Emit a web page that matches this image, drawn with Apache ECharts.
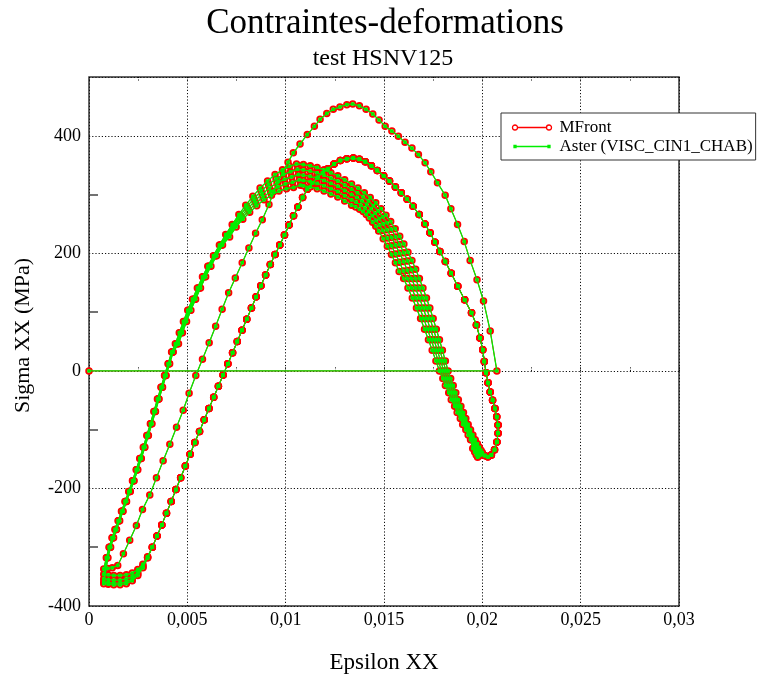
<!DOCTYPE html>
<html>
<head>
<meta charset="utf-8">
<script src="https://cdn.jsdelivr.net/npm/echarts@6/dist/echarts.min.js"></script>
<style>html,body{margin:0;padding:0;background:#fff}#c{width:762px;height:680px}</style>
</head>
<body>
<div id="c"></div>
<script>
const titleText = 'Contraintes-deformations';
const subtitleText = 'test HSNV125';
const xName = 'Epsilon XX';
const yName = 'Sigma XX (MPa)';
const seriesNames = ['MFront', 'Aster (VISC_CIN1_CHAB)'];
const xTickLabels = ['0', '0,005', '0,01', '0,015', '0,02', '0,025', '0,03'];
const yMinorCats = ['-400', '-300', '-200', '-100', '0', '100', '200', '300', '400', '500'];

// initial step and first half-cycle
const loadStart = [[0, 0], [0.02074, 0]];
const archFirst = [[0.02040,68],[0.02006,119],[0.01973,155],[0.01938,188],[0.01908,220],[0.01874,249],[0.01840,276],[0.01811,299],[0.01772,320],[0.01738,339],[0.01709,354],[0.01675,368],[0.01642,379],[0.01607,389],[0.01573,399],[0.01540,408],[0.01506,416],[0.01475,427],[0.01443,437],[0.01409,445],[0.01375,451],[0.01341,454],[0.01311,453],[0.01276,449],[0.01242,445],[0.01209,438],[0.01175,428],[0.01146,416],[0.01110,402],[0.01073,386],[0.01039,371],[0.01012,355],[0.00986,339],[0.00962,322],[0.00940,305],[0.00915,283],[0.00881,257],[0.00847,234],[0.00813,209],[0.00779,184],[0.00744,158],[0.00710,133],[0.00677,105],[0.00644,76],[0.00611,48],[0.00577,20],[0.00543,-8],[0.00509,-38],[0.00479,-67],[0.00445,-96],[0.00411,-125],[0.00377,-153],[0.00343,-182],[0.00309,-211],[0.00272,-236],[0.00241,-263],[0.00207,-288],[0.00175,-311],[0.00146,-331],[0.00118,-335],[0.00095,-336],[0.00075,-337]];

// rising branches (one per cycle)
const rise1 = [[0.00088,-318],[0.00102,-300],[0.00117,-284],[0.00132,-270],[0.00148,-255],[0.00165,-239],[0.00183,-222],[0.00202,-205],[0.00221,-187],[0.00240,-168],[0.00258,-149],[0.00276,-130],[0.00294,-110],[0.00312,-90],[0.00330,-69],[0.00348,-48],[0.00366,-28],[0.00384,-8],[0.00402,12],[0.00420,32],[0.00439,46],[0.00459,65],[0.00480,84],[0.00502,103],[0.00526,122],[0.00551,141],[0.00577,160],[0.00604,178],[0.00633,196],[0.00663,214],[0.00695,232],[0.00728,249],[0.00762,266],[0.00797,282],[0.00833,297],[0.00870,311],[0.00908,323],[0.00946,334],[0.00984,342],[0.01020,348],[0.01055,352],[0.01090,351],[0.01125,349],[0.01160,346],[0.01195,342],[0.01230,337],[0.01265,332],[0.01300,325],[0.01335,318],[0.01368,311],[0.01400,303],[0.01430,295],[0.01458,286],[0.01485,276],[0.01510,265],[0.01534,254],[0.01557,242],[0.01580,229],[0.01601,216],[0.01622,202],[0.01642,188],[0.01661,173],[0.01680,157],[0.01698,141],[0.01716,124],[0.01733,107],[0.01750,89],[0.01766,71],[0.01782,53],[0.01797,35],[0.01812,17],[0.01826,0],[0.01839,-13],[0.01852,-25],[0.01865,-37],[0.01878,-49],[0.01891,-60],[0.01904,-71],[0.01916,-81],[0.01928,-91],[0.01940,-100],[0.01952,-109],[0.01964,-117],[0.01975,-124],[0.01985,-130],[0.01993,-135],[0.02000,-139]];
const rise2 = [[0.00090,-318],[0.00104,-300],[0.00119,-284],[0.00134,-270],[0.00150,-255],[0.00167,-239],[0.00185,-222],[0.00204,-205],[0.00223,-187],[0.00242,-168],[0.00260,-149],[0.00278,-130],[0.00296,-110],[0.00314,-90],[0.00332,-69],[0.00350,-48],[0.00368,-28],[0.00386,-8],[0.00404,12],[0.00422,32],[0.00443,46],[0.00463,65],[0.00484,84],[0.00506,103],[0.00530,122],[0.00555,141],[0.00581,160],[0.00608,178],[0.00637,196],[0.00667,214],[0.00700,231],[0.00733,248],[0.00767,264],[0.00802,279],[0.00838,293],[0.00875,306],[0.00913,317],[0.00951,327],[0.00989,334],[0.01025,339],[0.01060,343],[0.01090,342],[0.01125,340],[0.01160,337],[0.01195,333],[0.01230,328],[0.01265,323],[0.01300,316],[0.01335,309],[0.01365,303],[0.01394,296],[0.01421,289],[0.01446,281],[0.01470,272],[0.01493,262],[0.01515,252],[0.01536,241],[0.01559,228],[0.01580,215],[0.01601,201],[0.01621,187],[0.01640,172],[0.01660,157],[0.01679,141],[0.01698,124],[0.01716,107],[0.01734,89],[0.01751,71],[0.01768,53],[0.01784,35],[0.01800,17],[0.01815,0],[0.01829,-13],[0.01842,-25],[0.01856,-37],[0.01869,-49],[0.01883,-60],[0.01896,-71],[0.01909,-81],[0.01921,-91],[0.01934,-100],[0.01946,-109],[0.01958,-117],[0.01969,-126],[0.01979,-132],[0.01987,-137],[0.01994,-141]];
const rise3 = [[0.00092,-318],[0.00106,-300],[0.00121,-284],[0.00136,-270],[0.00152,-255],[0.00169,-239],[0.00187,-222],[0.00206,-205],[0.00225,-187],[0.00244,-168],[0.00262,-149],[0.00280,-130],[0.00298,-110],[0.00316,-90],[0.00334,-69],[0.00352,-48],[0.00370,-28],[0.00388,-8],[0.00406,12],[0.00424,32],[0.00447,46],[0.00467,65],[0.00488,84],[0.00510,103],[0.00534,122],[0.00559,141],[0.00585,160],[0.00612,178],[0.00641,196],[0.00671,214],[0.00705,230],[0.00738,247],[0.00772,262],[0.00807,276],[0.00843,289],[0.00880,301],[0.00918,311],[0.00956,320],[0.00994,326],[0.01030,330],[0.01065,334],[0.01090,333],[0.01125,331],[0.01160,328],[0.01195,324],[0.01230,319],[0.01265,314],[0.01300,307],[0.01335,300],[0.01362,295],[0.01388,289],[0.01412,283],[0.01434,276],[0.01455,268],[0.01476,259],[0.01496,250],[0.01515,240],[0.01538,227],[0.01559,214],[0.01580,200],[0.01600,186],[0.01619,171],[0.01640,157],[0.01660,141],[0.01680,124],[0.01699,107],[0.01718,89],[0.01736,71],[0.01754,53],[0.01771,35],[0.01788,17],[0.01804,0],[0.01819,-13],[0.01832,-25],[0.01847,-37],[0.01860,-49],[0.01875,-60],[0.01888,-71],[0.01902,-81],[0.01914,-91],[0.01928,-100],[0.01940,-109],[0.01952,-117],[0.01963,-128],[0.01973,-134],[0.01981,-139],[0.01988,-143]];
const rise4 = [[0.00094,-318],[0.00108,-300],[0.00123,-284],[0.00138,-270],[0.00154,-255],[0.00171,-239],[0.00189,-222],[0.00208,-205],[0.00227,-187],[0.00246,-168],[0.00264,-149],[0.00282,-130],[0.00300,-110],[0.00318,-90],[0.00336,-69],[0.00354,-48],[0.00372,-28],[0.00390,-8],[0.00408,12],[0.00426,32],[0.00451,46],[0.00471,65],[0.00492,84],[0.00514,103],[0.00538,122],[0.00563,141],[0.00589,160],[0.00616,178],[0.00645,196],[0.00675,214],[0.00710,229],[0.00743,246],[0.00777,260],[0.00812,273],[0.00848,285],[0.00885,296],[0.00923,305],[0.00961,313],[0.00999,318],[0.01035,321],[0.01070,325],[0.01090,324],[0.01125,322],[0.01160,319],[0.01195,315],[0.01230,310],[0.01265,305],[0.01300,298],[0.01335,291],[0.01359,287],[0.01382,282],[0.01403,277],[0.01422,271],[0.01440,264],[0.01459,256],[0.01477,248],[0.01494,239],[0.01517,226],[0.01538,213],[0.01559,199],[0.01579,185],[0.01598,170],[0.01620,157],[0.01641,141],[0.01662,124],[0.01682,107],[0.01702,89],[0.01721,71],[0.01740,53],[0.01758,35],[0.01776,17],[0.01793,0],[0.01809,-13],[0.01822,-25],[0.01838,-37],[0.01851,-49],[0.01867,-60],[0.01880,-71],[0.01895,-81],[0.01907,-91],[0.01922,-100],[0.01934,-109],[0.01946,-117],[0.01957,-130],[0.01967,-136],[0.01975,-141],[0.01982,-145]];
const rise5 = [[0.00096,-318],[0.00110,-300],[0.00125,-284],[0.00140,-270],[0.00156,-255],[0.00173,-239],[0.00191,-222],[0.00210,-205],[0.00229,-187],[0.00248,-168],[0.00266,-149],[0.00284,-130],[0.00302,-110],[0.00320,-90],[0.00338,-69],[0.00356,-48],[0.00374,-28],[0.00392,-8],[0.00410,12],[0.00428,32],[0.00455,46],[0.00475,65],[0.00496,84],[0.00518,103],[0.00542,122],[0.00567,141],[0.00593,160],[0.00620,178],[0.00649,196],[0.00679,214],[0.00715,228],[0.00748,245],[0.00782,258],[0.00817,270],[0.00853,281],[0.00890,291],[0.00928,299],[0.00966,306],[0.01004,310],[0.01040,312],[0.01075,316],[0.01090,315],[0.01125,313],[0.01160,310],[0.01195,306],[0.01230,301],[0.01265,296],[0.01300,289],[0.01335,282],[0.01356,279],[0.01376,275],[0.01394,271],[0.01410,266],[0.01425,260],[0.01442,253],[0.01458,246],[0.01473,238],[0.01496,225],[0.01517,212],[0.01538,198],[0.01558,184],[0.01577,169],[0.01600,157],[0.01622,141],[0.01644,124],[0.01665,107],[0.01686,89],[0.01706,71],[0.01726,53],[0.01745,35],[0.01764,17],[0.01782,0],[0.01799,-13],[0.01812,-25],[0.01829,-37],[0.01842,-49],[0.01859,-60],[0.01872,-71],[0.01888,-81],[0.01900,-91],[0.01916,-100],[0.01928,-109],[0.01940,-117],[0.01951,-132],[0.01961,-138],[0.01969,-143],[0.01976,-147]];

// falling branch (hook at max strain, outer arch, right bundle)
const fallBack = [[0.02012,-144],[0.02028,-146],[0.02046,-143],[0.02062,-134],[0.02074,-121],[0.02080,-106],[0.02080,-92],[0.02073,-78],[0.02064,-64],[0.02052,-50],[0.02040,-36],[0.02029,-20],[0.02019,-3],[0.02010,16],[0.02002,36],[0.01988,56],[0.01970,78],[0.01945,99],[0.01910,121],[0.01875,144],[0.01842,166],[0.01812,186],[0.01784,203],[0.01759,219],[0.01734,235],[0.01708,250],[0.01679,266],[0.01648,280],[0.01618,292],[0.01588,303],[0.01558,313],[0.01528,323],[0.01498,332],[0.01466,341],[0.01436,349],[0.01405,356],[0.01375,360],[0.01344,362],[0.01311,361],[0.01278,358],[0.01246,352],[0.01215,344],[0.01188,337],[0.01162,329],[0.01136,320],[0.01110,309],[0.01086,295],[0.01062,279],[0.01040,264],[0.01017,248],[0.00994,231],[0.00970,214],[0.00946,198],[0.00922,181],[0.00898,163],[0.00874,145],[0.00850,126],[0.00826,107],[0.00802,88],[0.00778,69],[0.00754,50],[0.00730,31],[0.00706,12],[0.00682,-7],[0.00658,-26],[0.00634,-45],[0.00610,-64],[0.00586,-83],[0.00562,-103],[0.00538,-122],[0.00514,-142],[0.00490,-162],[0.00466,-182],[0.00442,-202],[0.00418,-222],[0.00394,-242],[0.00370,-262],[0.00346,-281],[0.00322,-300]];

// ends of the falling branches near minimum strain
const tail1 = [[0.00298,-316],[0.00274,-329],[0.00248,-338],[0.00220,-344],[0.00190,-347],[0.00158,-348],[0.00126,-348],[0.00098,-347],[0.00075,-346]];
const tail2 = [[0.00298,-317],[0.00274,-332],[0.00248,-343],[0.00220,-350],[0.00190,-354],[0.00158,-356],[0.00126,-356],[0.00098,-355],[0.00075,-354]];
const tail3 = [[0.00298,-318],[0.00274,-334],[0.00248,-346],[0.00220,-354],[0.00190,-359],[0.00158,-361],[0.00126,-361],[0.00098,-360],[0.00075,-359]];
const tail4 = [[0.00298,-318],[0.00274,-335],[0.00248,-348],[0.00220,-357],[0.00190,-362],[0.00158,-364],[0.00126,-364],[0.00098,-363],[0.00075,-362]];

const mfrontData = [].concat(loadStart, archFirst,
  rise1, fallBack, tail1,
  rise2, fallBack, tail2,
  rise3, fallBack, tail3,
  rise4, fallBack, tail4,
  rise5);
const asterData = mfrontData;

const F = "'Liberation Serif', 'DejaVu Serif', serif";
const dotted = { color: '#111', width: 1, type: [1.2, 2] };
const tickDot = { color: '#000', width: 1, type: [1, 1.5] };

const iconMFront = 'path://M5,2.5 L34,2.5 M0,2.5 A2.5,2.5 0 1,0 5,2.5 A2.5,2.5 0 1,0 0,2.5 Z M34,2.5 A2.5,2.5 0 1,0 39,2.5 A2.5,2.5 0 1,0 34,2.5 Z';
const iconAster = 'path://M0,0 L0,0 M39,5 L39,5 M3.5,2.5 L35.5,2.5 M1.5,1.5 L3.5,1.5 L3.5,3.5 L1.5,3.5 Z M35.5,1.5 L37.5,1.5 L37.5,3.5 L35.5,3.5 Z';

const chart = echarts.init(document.getElementById('c'), null, { renderer: 'canvas' });
chart.setOption({
  animation: false,
  backgroundColor: '#fff',
  title: [
    { text: titleText, left: 385, top: 6, padding: 0, textAlign: 'center',
      textStyle: { fontFamily: F, fontSize: 35, fontWeight: 'normal', color: '#000' } },
    { text: subtitleText, left: 383, top: 47, padding: 0, textAlign: 'center',
      textStyle: { fontFamily: F, fontSize: 24, fontWeight: 'normal', color: '#000' } }
  ],
  legend: {
    orient: 'vertical', left: 501, top: 113, padding: [6, 3, 5, 9], itemGap: 2,
    itemWidth: 39, itemHeight: 5, selectedMode: false,
    borderColor: '#333', borderWidth: 1, backgroundColor: '#fff',
    textStyle: { fontFamily: F, fontSize: 17, color: '#000', lineHeight: 17, padding: [0, 0, 0, 3] },
    data: [
      { name: seriesNames[0], icon: iconMFront, itemStyle: { color: 'none', borderColor: '#ff0000', borderWidth: 1.3 } },
      { name: seriesNames[1], icon: iconAster, itemStyle: { color: '#00ee00', borderColor: '#00ee00', borderWidth: 1.3 } }
    ]
  },
  grid: { left: 89, top: 77, width: 590, height: 529, show: true, borderColor: '#333', borderWidth: 1.5,
          backgroundColor: 'rgba(0,0,0,0)', containLabel: false, outerBoundsMode: 'none' },
  xAxis: [
    { type: 'value', position: 'bottom', min: 0, max: 0.03, interval: 0.005,
      axisLine: { show: false },
      axisTick: { show: true, inside: true, length: 5, lineStyle: tickDot },
      minorTick: { show: true, splitNumber: 2, length: 5, lineStyle: tickDot },
      splitLine: { show: true, lineStyle: dotted },
      axisLabel: { fontFamily: F, fontSize: 18, color: '#000', margin: 5,
        formatter: v => xTickLabels[Math.round(v / 0.005)] },
      name: xName, nameLocation: 'middle', nameGap: 45,
      nameTextStyle: { fontFamily: F, fontSize: 23, color: '#000' } },
    { type: 'value', position: 'top', min: 0, max: 0.03, interval: 0.005,
      axisLine: { show: false },
      axisTick: { show: true, inside: true, length: 4, lineStyle: tickDot },
      minorTick: { show: true, splitNumber: 2, length: 4, lineStyle: tickDot },
      splitLine: { show: false }, axisLabel: { show: false } }
  ],
  yAxis: [
    { type: 'value', position: 'left', min: -400, max: 500, interval: 200,
      axisLine: { show: false }, axisTick: { show: false },
      splitLine: { show: true, lineStyle: dotted },
      axisLabel: { fontFamily: F, fontSize: 18, color: '#000', margin: 8, showMaxLabel: false,
        formatter: v => (v >= 500 ? '' : String(v)) },
      name: yName, nameLocation: 'middle', nameGap: 55,
      nameTextStyle: { fontFamily: F, fontSize: 22, color: '#000', padding: [0, 0, 0, 12] } },
    { type: 'category', position: 'left', data: yMinorCats, boundaryGap: false,
      axisLine: { show: false }, axisLabel: { show: false }, splitLine: { show: false },
      axisTick: { show: true, inside: true, length: 9,
        interval: (i) => i % 2 === 1 && i < 9,
        lineStyle: { color: '#444', width: 1.5 } } }
  ],
  series: [
    { name: seriesNames[0], type: 'line', xAxisIndex: 0, yAxisIndex: 0, data: mfrontData,
      symbol: 'emptyCircle', symbolSize: 5.5, showSymbol: true, z: 2,
      itemStyle: { color: '#ff0000', borderColor: '#ff0000', borderWidth: 1.3 },
      lineStyle: { color: '#ff0000', width: 1 }, emphasis: { disabled: true } },
    { name: seriesNames[1], type: 'line', xAxisIndex: 0, yAxisIndex: 0, data: asterData,
      symbol: 'rect', symbolSize: 3.5, showSymbol: true, z: 3,
      itemStyle: { color: '#00ee00' },
      lineStyle: { color: '#00ee00', width: 1.3 }, emphasis: { disabled: true } }
  ]
});
</script>
</body>
</html>
